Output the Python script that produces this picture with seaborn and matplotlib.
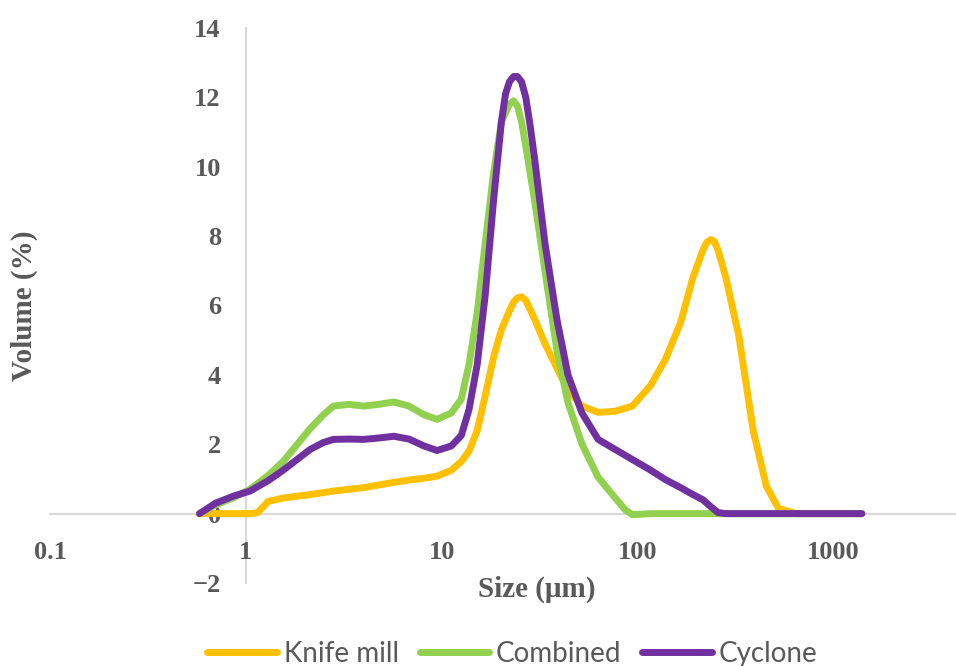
import pandas as pd
import matplotlib.pyplot as plt
import seaborn as sns

# particle size distribution
knife_size = [0.58, 0.86, 1.05, 1.15, 1.30, 1.55, 2.13, 2.80, 4.0, 5.70, 6.81, 8.13, 9.48,
              11.2, 12.6, 13.8, 15.2, 16.7, 18.4, 20.2, 22.2, 23.3, 24.4, 25.6, 26.9, 29.9,
              33.7, 38.8, 44.2, 52.1, 63.0, 77.0, 94.2, 117, 139, 166, 192, 216, 226, 237,
              247, 258, 283, 330, 390, 455, 525, 649, 1400]
knife_vol = [0, 0, 0, 0.03, 0.35, 0.45, 0.55, 0.65, 0.75, 0.9, 0.97, 1.02, 1.08,
             1.25, 1.5, 1.8, 2.4, 3.4, 4.5, 5.3, 5.85, 6.1, 6.22, 6.25, 6.15, 5.6,
             4.9, 4.2, 3.55, 3.1, 2.92, 2.95, 3.1, 3.7, 4.45, 5.5, 6.8, 7.6, 7.82, 7.9,
             7.85, 7.6, 6.8, 5.1, 2.4, 0.8, 0.15, 0, 0]

combined_size = [0.58, 0.70, 0.86, 1.05, 1.30, 1.55, 2.13, 2.49, 2.80, 3.35, 4.0, 4.77,
                 5.70, 6.81, 8.13, 9.48, 11.2, 12.6, 13.8, 15.2, 16.7, 18.4, 20.2, 22.2,
                 23.3, 24.4, 25.6, 26.9, 29.9, 33.7, 38.8, 44.2, 52.1, 63.0, 77.0, 87.0,
                 94.2, 117, 1400]
combined_vol = [0, 0.25, 0.45, 0.7, 1.1, 1.5, 2.45, 2.85, 3.1, 3.15, 3.1, 3.15,
                3.22, 3.1, 2.85, 2.72, 2.9, 3.3, 4.3, 5.8, 7.8, 9.8, 11.3, 11.8,
                11.9, 11.75, 11.3, 10.6, 9.0, 7.0, 4.7, 3.2, 2.0, 1.05, 0.45, 0.1,
                -0.03, 0, 0]

cyclone_size = [0.58, 0.70, 0.86, 1.05, 1.30, 1.55, 2.13, 2.49, 2.80, 3.35, 4.0, 4.77,
                5.70, 6.81, 8.13, 9.48, 11.2, 12.6, 13.8, 15.2, 16.7, 18.4, 20.2, 21.2,
                22.2, 23.3, 24.4, 25.6, 26.9, 28.3, 29.9, 33.7, 38.8, 44.2, 52.1, 63.0,
                77.0, 94.2, 117, 139, 166, 192, 216, 237, 258, 283, 1400]
cyclone_vol = [0, 0.3, 0.5, 0.65, 0.95, 1.25, 1.85, 2.05, 2.14, 2.15, 2.14, 2.18,
               2.23, 2.15, 1.95, 1.82, 1.95, 2.25, 3.0, 4.3, 6.3, 9.0, 11.3, 12.1,
               12.45, 12.6, 12.6, 12.45, 12.0, 11.2, 10.2, 7.8, 5.6, 4.0, 2.9, 2.14,
               1.85, 1.56, 1.25, 0.98, 0.75, 0.55, 0.4, 0.2, 0.03, 0, 0]

series = ['Knife mill', 'Combined', 'Cyclone']
colors = ['#FFC000', '#92D050', '#7030A0']

x_ticks = [0.1, 1, 10, 100, 1000]
x_tick_labels = ['0.1', '1', '10', '100', '1000']
y_ticks = [-2, 0, 2, 4, 6, 8, 10, 12, 14]
y_tick_labels = ['\u22122', '0', '2', '4', '6', '8', '10', '12', '14']


def build_frame():
    parts = []
    for name, sizes, vols in zip(series,
                                 [knife_size, combined_size, cyclone_size],
                                 [knife_vol, combined_vol, cyclone_vol]):
        parts.append(pd.DataFrame({'Size': sizes, 'Volume': vols, 'Sample': name}))
    return pd.concat(parts, ignore_index=True)


sns.set_style('white')
plt.rcParams['font.family'] = ['Liberation Serif', 'DejaVu Serif']

data = build_frame()

fig = plt.figure(figsize=(9.56, 6.66), dpi=100)
ax = fig.add_axes([50 / 956, 83 / 666, 913 / 956, 555 / 666])

sns.lineplot(data=data, x='Size', y='Volume', hue='Sample', hue_order=series,
             palette=colors, estimator=None, sort=False, linewidth=5,
             solid_capstyle='round', solid_joinstyle='round', ax=ax, legend=True)

ax.set_xscale('log')
ax.set_xlim(0.1, 4600)
ax.set_ylim(-2, 14)

# axes cross at x=1 and y=0, like the spreadsheet chart
for side in ['top', 'right']:
    ax.spines[side].set_visible(False)
ax.spines['bottom'].set_position(('data', 0))
ax.spines['left'].set_position(('data', 1))
for side in ['bottom', 'left']:
    ax.spines[side].set_color('#d9d9d9')
    ax.spines[side].set_linewidth(1.5)
    ax.spines[side].set_zorder(0)

ax.set_xticks(x_ticks, x_tick_labels)
ax.set_yticks(y_ticks, y_tick_labels)
ax.minorticks_off()
ax.tick_params(axis='x', length=0, pad=20, labelsize=19, labelcolor='#595959')
ax.tick_params(axis='y', length=0, pad=18, labelsize=19, labelcolor='#595959')
for lab in ax.get_xticklabels() + ax.get_yticklabels():
    lab.set_fontweight('bold')

ax.set_xlabel('Size (\u03bcm)', fontsize=21, fontweight='bold', color='#595959')
ax.set_ylabel('Volume (%)', fontsize=21, fontweight='bold', color='#595959')
ax.xaxis.set_label_coords(0.533, 0.014)
ax.yaxis.set_label_coords(-0.013, 0.5)

handles, labels = ax.get_legend_handles_labels()
ax.get_legend().remove()
leg = fig.legend(handles, labels, loc='center', bbox_to_anchor=(0.536, 0.018),
                 ncol=3, frameon=False, handlelength=2.5, handletextpad=0.25,
                 columnspacing=0.75, prop={'family': 'Lato', 'size': 20})
for t in leg.get_texts():
    t.set_color('#595959')
for h in leg.get_lines():
    h.set_linewidth(5)

fig.savefig('out.png', dpi=100)
